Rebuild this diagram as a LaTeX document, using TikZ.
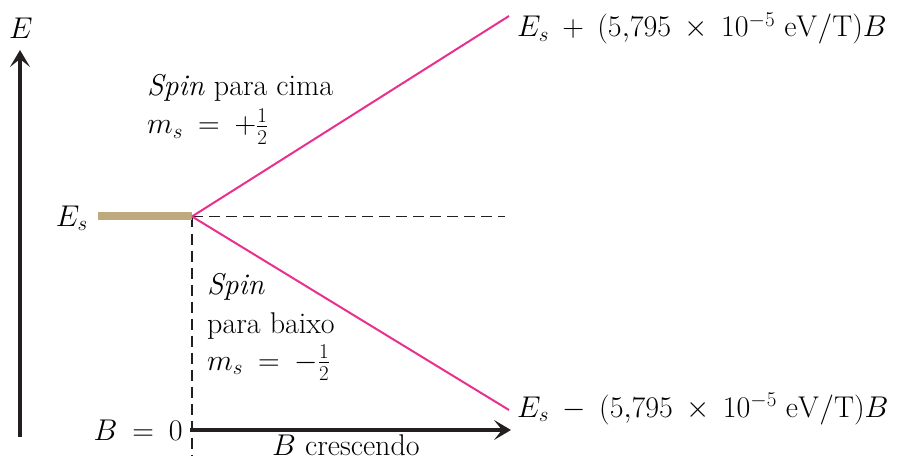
\RequirePackage{fix-cm}
\documentclass[tikz,border=0pt]{standalone}
\usepackage{amsmath}
\usetikzlibrary{arrows.meta}
\definecolor{axisblack}{HTML}{231F20}
\definecolor{levelgold}{HTML}{BFA97F}
\definecolor{splitpink}{HTML}{E8308E}
\newcommand{\lblfont}{\fontsize{30}{36}\selectfont\medmuskip=8mu\relax\thickmuskip=9mu\relax}
\begin{document}
\begin{tikzpicture}[x=1pt,y=-1pt,
  lbl/.style={inner sep=0pt, font=\lblfont},
  axis/.style={draw=axisblack, line width=4pt, -{Stealth[length=17pt,width=20pt,inset=8pt]}},
  guide/.style={draw=axisblack, line width=1.4pt, dash pattern=on 11pt off 6pt},
  branch/.style={draw=splitpink, line width=2pt}]
\useasboundingbox (0,0) rectangle (901,462);
% coordinates
\coordinate (eaxbot) at (20,437);
\coordinate (eaxtop) at (20,50);
\coordinate (baxl) at (190,430);
\coordinate (baxr) at (511,430);
\coordinate (lvll) at (98,216.5);
\coordinate (split) at (192,216.5);
\coordinate (hdashend) at (505,216.5);
\coordinate (vdashend) at (192,456);
\coordinate (upend) at (509,16);
\coordinate (downend) at (509,410);
% guides
\draw[guide] (split) -- (hdashend);
\draw[guide] (split) -- (vdashend);
% level bar
\draw[levelgold, line width=8pt] (lvll) -- (split);
% split lines
\draw[branch] (split) -- (upend);
\draw[branch] (split) -- (downend);
% axes
\draw[axis] (eaxbot) -- (eaxtop);
\draw[axis] (baxl) -- (baxr);
% labels
\node[lbl, anchor=base] (elab) at (21,39) {$E$};
\node[lbl, anchor=base east] (eslab) at (88,226) {$E_s$};
\node[lbl, anchor=base west] (uplab1) at (147,96) {\textit{Spin} para cima};
\node[lbl, anchor=base west] (uplab2) at (147,134) {$m_s = +\tfrac{1}{2}$};
\node[lbl, anchor=base west] (dnlab1) at (207,294) {\textit{Spin}};
\node[lbl, anchor=base west] (dnlab2) at (207,333) {para baixo};
\node[lbl, anchor=base west] (dnlab3) at (207,370) {$m_s = -\tfrac{1}{2}$};
\node[lbl, anchor=base east] (b0lab) at (183,440) {$B = 0$};
\node[lbl, anchor=base west] (bclab) at (272,455) {$B$ crescendo};
\node[lbl, anchor=base west] (toplab) at (517,37) {$E_s + (5{,}795 \times 10^{-5}\ \mathrm{eV/T})B$};
\node[lbl, anchor=base west] (botlab) at (517,417) {$E_s - (5{,}795 \times 10^{-5}\ \mathrm{eV/T})B$};
\end{tikzpicture}
\end{document}
